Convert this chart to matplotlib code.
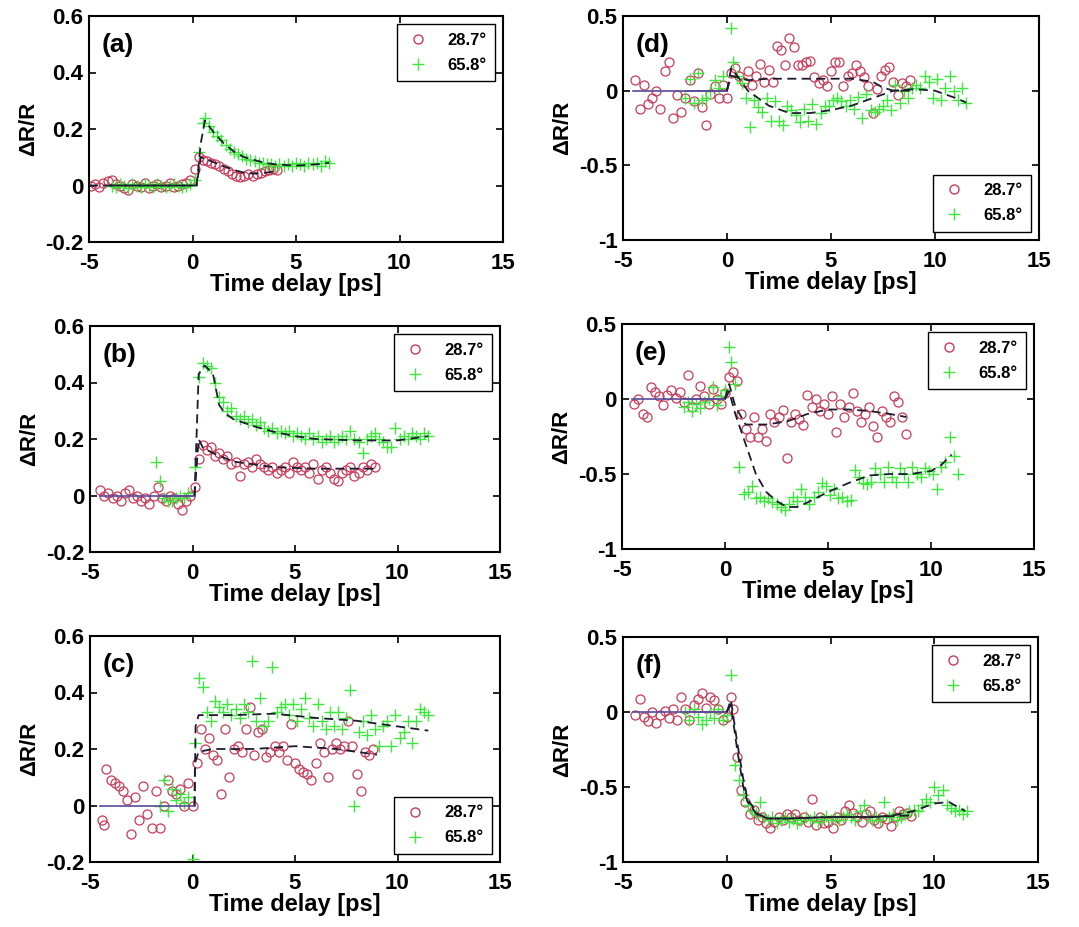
import numpy as np
import matplotlib
matplotlib.use('Agg')
import matplotlib.pyplot as plt
from matplotlib.lines import Line2D

plt.rcParams['font.family'] = ['Liberation Sans', 'DejaVu Sans']
plt.rcParams['font.weight'] = 'bold'
plt.rcParams['axes.unicode_minus'] = False

labels = ['28.7°', '65.8°']
panel_names = ['(a)', '(b)', '(c)', '(d)', '(e)', '(f)']
x_ticks = [-5, 0, 5, 10, 15]
y_ticks_left = [-0.2, 0, 0.2, 0.4, 0.6]
y_ticks_right = [-1, -0.5, 0, 0.5]

# ---- panel (a) ----
a_red = [(-4.9, 0.0), (-4.7, 0.005), (-4.5, -0.005), (-4.3, 0.01), (-4.1, 0.015), (-3.9, 0.02),
         (-3.7, 0.005), (-3.5, 0.0), (-3.3, -0.01), (-3.1, -0.015), (-2.9, 0.005), (-2.7, 0.0),
         (-2.5, -0.005), (-2.3, 0.01), (-2.1, -0.01), (-1.9, 0.0), (-1.7, 0.005), (-1.5, -0.005),
         (-1.3, 0.0), (-1.1, 0.01), (-0.9, -0.005), (-0.7, 0.0), (-0.5, 0.005), (-0.3, 0.01),
         (-0.1, 0.02), (0.1, 0.06), (0.3, 0.1), (0.5, 0.09), (0.7, 0.085), (0.9, 0.08), (1.1, 0.075),
         (1.3, 0.07), (1.5, 0.06), (1.7, 0.05), (1.9, 0.04), (2.1, 0.035), (2.3, 0.03), (2.5, 0.035),
         (2.7, 0.04), (2.9, 0.035), (3.1, 0.04), (3.3, 0.045), (3.5, 0.05), (3.7, 0.055), (3.9, 0.06),
         (4.1, 0.055)]
a_green = [(-3.9, 0.0), (-3.7, -0.005), (-3.5, 0.005), (-3.3, 0.0), (-3.1, -0.01), (-2.9, 0.005),
           (-2.7, 0.0), (-2.5, -0.005), (-2.3, 0.005), (-2.1, 0.0), (-1.9, -0.005), (-1.7, 0.005),
           (-1.5, 0.0), (-1.3, -0.005), (-1.1, 0.0), (-0.9, 0.005), (-0.7, 0.0), (-0.5, -0.005),
           (-0.3, 0.0), (-0.1, 0.005), (0.1, 0.02), (0.3, 0.12), (0.5, 0.22), (0.6, 0.24), (0.8, 0.21),
           (1.0, 0.19), (1.2, 0.175), (1.4, 0.16), (1.6, 0.145), (1.8, 0.13), (2.0, 0.12), (2.2, 0.11),
           (2.4, 0.105), (2.6, 0.095), (2.8, 0.09), (3.0, 0.085), (3.2, 0.08), (3.4, 0.08), (3.6, 0.075),
           (3.8, 0.075), (4.0, 0.07), (4.2, 0.075), (4.4, 0.07), (4.6, 0.075), (4.8, 0.07), (5.0, 0.08),
           (5.2, 0.075), (5.4, 0.07), (5.6, 0.08), (5.8, 0.075), (6.0, 0.08), (6.2, 0.07), (6.4, 0.085),
           (6.6, 0.08)]
a_red_fit = [(-5, 0), (0.2, 0), (0.4, 0.1), (0.6, 0.095), (1.0, 0.083), (1.5, 0.068), (2.0, 0.055),
             (2.5, 0.045), (3.0, 0.042), (3.5, 0.045), (4.0, 0.05)]
a_green_fit = [(-4, 0), (0.2, 0), (0.4, 0.15), (0.6, 0.23), (1.0, 0.19), (1.5, 0.15), (2.0, 0.12),
               (2.5, 0.1), (3.0, 0.09), (3.5, 0.08), (4.0, 0.075), (5.0, 0.07), (6.0, 0.075), (6.6, 0.08)]

# ---- panel (b) ----
b_red = [(-4.5, 0.02), (-4.3, 0.0), (-4.1, 0.01), (-3.9, -0.01), (-3.7, 0.0), (-3.5, -0.02), (-3.3, 0.01),
         (-3.1, 0.02), (-2.9, -0.01), (-2.7, 0.0), (-2.5, -0.02), (-2.3, -0.01), (-2.1, -0.03), (-1.9, 0.0),
         (-1.7, 0.03), (-1.5, -0.01), (-1.3, -0.02), (-1.1, 0.0), (-0.9, -0.01), (-0.7, -0.03), (-0.5, -0.05),
         (-0.3, -0.02), (-0.1, 0.0), (0.1, 0.03), (0.3, 0.13), (0.5, 0.18), (0.7, 0.16), (0.9, 0.17),
         (1.1, 0.14), (1.3, 0.15), (1.5, 0.13), (1.7, 0.14), (1.9, 0.11), (2.1, 0.12), (2.3, 0.07),
         (2.5, 0.11), (2.7, 0.12), (2.9, 0.1), (3.1, 0.13), (3.3, 0.11), (3.5, 0.1), (3.7, 0.09), (3.9, 0.1),
         (4.1, 0.08), (4.3, 0.09), (4.5, 0.1), (4.7, 0.08), (4.9, 0.12), (5.1, 0.1), (5.3, 0.09), (5.5, 0.1),
         (5.7, 0.08), (5.9, 0.11), (6.1, 0.06), (6.3, 0.09), (6.5, 0.1), (6.7, 0.08), (6.9, 0.06), (7.1, 0.05),
         (7.3, 0.08), (7.5, 0.09), (7.7, 0.1), (7.9, 0.07), (8.1, 0.08), (8.3, 0.1), (8.5, 0.09), (8.7, 0.11),
         (8.9, 0.1)]
b_green = [(-1.8, 0.12), (-1.6, 0.05), (-1.4, -0.01), (-1.2, -0.02), (-1.0, -0.02), (-0.8, -0.01),
           (-0.6, 0.0), (-0.4, -0.01), (-0.2, 0.01), (0.1, 0.1), (0.3, 0.42), (0.5, 0.47), (0.7, 0.46),
           (0.9, 0.45), (1.1, 0.4), (1.3, 0.35), (1.5, 0.33), (1.7, 0.3), (1.9, 0.31), (2.1, 0.28), (2.3, 0.27),
           (2.5, 0.28), (2.7, 0.26), (2.9, 0.27), (3.1, 0.25), (3.3, 0.26), (3.5, 0.24), (3.7, 0.23), (3.9, 0.24),
           (4.1, 0.22), (4.3, 0.23), (4.5, 0.22), (4.7, 0.23), (4.9, 0.21), (5.1, 0.22), (5.3, 0.21), (5.5, 0.2),
           (5.7, 0.22), (5.9, 0.2), (6.1, 0.21), (6.3, 0.19), (6.5, 0.2), (6.7, 0.21), (6.9, 0.19), (7.1, 0.2),
           (7.3, 0.21), (7.5, 0.2), (7.7, 0.23), (7.9, 0.2), (8.1, 0.19), (8.3, 0.15), (8.5, 0.2), (8.7, 0.21),
           (8.9, 0.22), (9.1, 0.2), (9.3, 0.19), (9.5, 0.17), (9.7, 0.17), (9.9, 0.24), (10.1, 0.2),
           (10.3, 0.21), (10.5, 0.2), (10.7, 0.22), (10.9, 0.21), (11.1, 0.2), (11.3, 0.22), (11.5, 0.21)]
b_red_fit = [(-4.5, 0), (0.1, 0), (0.3, 0.2), (0.5, 0.17), (1.0, 0.15), (2.0, 0.12), (3.0, 0.11),
             (4.0, 0.1), (6.0, 0.095), (9.0, 0.095)]
b_green_fit = [(-1.5, 0), (0.1, 0), (0.3, 0.43), (0.6, 0.46), (1.0, 0.43), (1.3, 0.32), (1.6, 0.29),
               (2.0, 0.27), (3.0, 0.245), (4.0, 0.225), (5.0, 0.21), (6.0, 0.2), (8.0, 0.195),
               (10.0, 0.195), (11.5, 0.21)]

# ---- panel (c) ----
c_red = [(-4.4, -0.05), (-4.3, -0.07), (-4.2, 0.13), (-4.0, 0.09), (-3.8, 0.08), (-3.6, 0.07), (-3.4, 0.05),
         (-3.2, 0.02), (-3.0, -0.1), (-2.8, 0.03), (-2.6, -0.05), (-2.4, 0.07), (-2.2, -0.03), (-2.0, -0.08),
         (-1.8, 0.05), (-1.6, -0.08), (-1.4, 0.0), (-1.2, 0.09), (-1.0, 0.05), (-0.8, 0.04), (-0.6, 0.06),
         (-0.4, 0.0), (-0.2, 0.08), (0.0, 0.0), (0.2, 0.15), (0.4, 0.27), (0.6, 0.2), (0.8, 0.24), (1.0, 0.18),
         (1.2, 0.16), (1.4, 0.04), (1.6, 0.27), (1.8, 0.1), (2.0, 0.2), (2.2, 0.21), (2.4, 0.19), (2.6, 0.27),
         (2.8, 0.35), (3.0, 0.18), (3.2, 0.26), (3.4, 0.27), (3.6, 0.17), (3.8, 0.19), (4.0, 0.21), (4.2, 0.19),
         (4.4, 0.21), (4.6, 0.16), (4.8, 0.29), (5.0, 0.15), (5.2, 0.13), (5.4, 0.12), (5.6, 0.11), (5.8, 0.09),
         (6.0, 0.15), (6.2, 0.22), (6.4, 0.19), (6.6, 0.1), (6.8, 0.2), (7.0, 0.22), (7.2, 0.2), (7.4, 0.21),
         (7.6, 0.3), (7.8, 0.21), (8.0, 0.11), (8.2, 0.05), (8.4, 0.19), (8.6, 0.18), (8.8, 0.2)]
c_green = [(0.0, -0.19), (-1.6, 0.0), (-1.4, 0.09), (-1.2, -0.02), (-1.0, 0.06), (-0.8, 0.02), (-0.6, 0.04),
           (-0.4, 0.01), (-0.2, 0.03), (0.1, 0.22), (0.3, 0.45), (0.5, 0.42), (0.7, 0.33), (0.9, 0.3),
           (1.1, 0.37), (1.3, 0.35), (1.5, 0.33), (1.7, 0.36), (1.9, 0.32), (2.1, 0.34), (2.3, 0.31),
           (2.5, 0.36), (2.7, 0.33), (2.9, 0.51), (3.1, 0.3), (3.3, 0.38), (3.5, 0.28), (3.7, 0.3), (3.9, 0.49),
           (4.1, 0.33), (4.3, 0.35), (4.5, 0.36), (4.7, 0.32), (4.9, 0.36), (5.1, 0.3), (5.3, 0.34), (5.5, 0.38),
           (5.7, 0.31), (5.9, 0.28), (6.1, 0.36), (6.3, 0.3), (6.5, 0.27), (6.7, 0.33), (6.9, 0.28), (7.1, 0.33),
           (7.3, 0.27), (7.5, 0.31), (7.7, 0.41), (7.9, 0.0), (8.1, 0.26), (8.3, 0.3), (8.5, 0.25), (8.7, 0.32),
           (8.9, 0.27), (9.1, 0.21), (9.3, 0.28), (9.5, 0.3), (9.7, 0.21), (9.9, 0.32), (10.1, 0.24),
           (10.3, 0.26), (10.5, 0.3), (10.7, 0.22), (10.9, 0.3), (11.1, 0.34), (11.3, 0.33), (11.5, 0.32)]
c_red_fit = [(-4.5, 0), (0.1, 0), (0.12, 0.15), (0.3, 0.19), (1.0, 0.2), (3.0, 0.2), (5.0, 0.21),
             (7.0, 0.2), (9.0, 0.18)]
c_green_fit = [(0.1, 0), (0.15, 0.28), (0.3, 0.32), (2.0, 0.32), (4.0, 0.325), (6.0, 0.31), (8.0, 0.3),
               (10.0, 0.28), (11.5, 0.265)]

# ---- panel (d) ----
d_red = [(-4.4, 0.07), (-4.2, -0.12), (-4.0, 0.04), (-3.8, -0.09), (-3.6, -0.05), (-3.4, 0.0), (-3.2, -0.12),
         (-3.0, 0.13), (-2.8, 0.19), (-2.6, -0.18), (-2.4, -0.03), (-2.2, -0.14), (-2.0, -0.05), (-1.8, 0.07),
         (-1.6, -0.07), (-1.4, 0.12), (-1.2, -0.11), (-1.0, -0.23), (-0.8, -0.02), (-0.6, 0.03), (-0.4, -0.05),
         (-0.2, 0.04), (0.0, -0.05), (0.2, 0.12), (0.4, 0.15), (0.6, 0.1), (0.8, 0.06), (1.0, 0.13), (1.2, 0.04),
         (1.4, 0.1), (1.6, 0.18), (1.8, 0.06), (2.0, 0.14), (2.2, 0.06), (2.4, 0.3), (2.6, 0.27), (2.8, 0.17),
         (3.0, 0.35), (3.2, 0.29), (3.4, 0.17), (3.6, 0.17), (3.8, 0.19), (4.0, 0.2), (4.2, 0.09), (4.4, 0.05),
         (4.6, 0.07), (4.8, 0.03), (5.0, 0.13), (5.2, 0.19), (5.4, 0.19), (5.6, 0.03), (5.8, 0.1), (6.0, 0.12),
         (6.2, 0.17), (6.4, 0.13), (6.6, 0.09), (6.8, 0.03), (7.0, -0.15), (7.2, 0.01), (7.4, 0.1), (7.6, 0.14),
         (7.8, 0.16), (8.0, 0.06), (8.2, -0.03), (8.4, 0.05), (8.6, 0.03), (8.8, 0.07)]
d_green = [(-2.0, -0.05), (-1.8, 0.08), (-1.6, -0.08), (-1.4, 0.12), (-1.2, -0.06), (-1.0, -0.05),
           (-0.8, 0.0), (-0.6, 0.07), (-0.4, 0.02), (-0.2, 0.1), (0.2, 0.42), (0.3, 0.19), (0.5, 0.1),
           (0.7, 0.05), (0.9, -0.05), (1.1, -0.24), (1.3, -0.06), (1.5, -0.11), (1.7, -0.14), (1.9, -0.05),
           (2.1, -0.2), (2.3, -0.07), (2.5, -0.2), (2.7, -0.23), (2.9, -0.1), (3.1, -0.13), (3.3, -0.16),
           (3.5, -0.21), (3.7, -0.12), (3.9, -0.2), (4.1, -0.09), (4.3, -0.22), (4.5, -0.15), (4.7, -0.1),
           (4.9, -0.1), (5.1, -0.06), (5.3, -0.05), (5.5, -0.07), (5.7, -0.1), (5.9, -0.06), (6.1, -0.12),
           (6.3, -0.04), (6.5, -0.18), (6.7, -0.02), (6.9, -0.13), (7.1, -0.14), (7.3, -0.12), (7.5, -0.1),
           (7.7, -0.06), (7.9, -0.13), (8.1, 0.04), (8.3, -0.08), (8.5, 0.0), (8.7, -0.05), (8.9, 0.02),
           (9.1, 0.04), (9.3, 0.02), (9.5, 0.1), (9.7, 0.06), (9.9, -0.05), (10.1, 0.08), (10.3, -0.06),
           (10.5, 0.02), (10.7, 0.1), (10.9, 0.0), (11.1, -0.06), (11.3, 0.02), (11.5, -0.08)]
d_red_fit = [(-4.5, 0), (0.0, 0), (0.2, 0.1), (1.0, 0.07), (2.0, 0.08), (4.0, 0.08), (6.0, 0.08),
             (7.0, 0.06), (7.5, 0.02), (8.0, 0.0), (9.0, 0.0)]
d_green_fit = [(-2, 0), (0.0, 0), (0.2, 0.15), (0.6, 0.08), (1.0, 0.0), (2.0, -0.1), (3.0, -0.15),
               (4.0, -0.15), (5.0, -0.13), (6.0, -0.1), (7.0, -0.05), (8.0, 0.0), (9.0, 0.01),
               (10.0, 0.0), (11.0, -0.05), (11.5, -0.08)]

# ---- panel (e) ----
e_red = [(-4.4, -0.03), (-4.2, 0.0), (-4.0, -0.1), (-3.8, -0.12), (-3.6, 0.08), (-3.4, 0.05), (-3.2, 0.02),
         (-3.0, -0.04), (-2.8, 0.03), (-2.6, 0.06), (-2.4, 0.01), (-2.2, 0.05), (-2.0, -0.02), (-1.8, 0.16),
         (-1.6, -0.05), (-1.4, 0.0), (-1.2, 0.09), (-1.0, 0.02), (-0.8, -0.03), (-0.6, 0.07), (-0.4, 0.0),
         (-0.2, -0.03), (0.0, 0.04), (0.2, 0.15), (0.4, 0.18), (0.6, 0.12), (0.8, -0.1), (1.0, -0.2),
         (1.2, -0.25), (1.4, -0.12), (1.6, -0.25), (1.8, -0.2), (2.0, -0.28), (2.2, -0.1), (2.4, -0.15),
         (2.6, -0.12), (2.8, -0.07), (3.0, -0.39), (3.2, -0.15), (3.4, -0.1), (3.6, -0.13), (3.8, -0.17),
         (4.0, 0.03), (4.2, -0.05), (4.4, 0.0), (4.6, -0.08), (4.8, -0.03), (5.0, -0.1), (5.2, 0.02),
         (5.4, -0.22), (5.6, -0.03), (5.8, -0.12), (6.0, -0.05), (6.2, 0.04), (6.4, -0.08), (6.6, -0.15),
         (6.8, -0.1), (7.0, -0.05), (7.2, -0.18), (7.4, -0.25), (7.6, -0.08), (7.8, -0.12), (8.0, -0.15),
         (8.2, 0.02), (8.4, -0.02), (8.6, -0.12), (8.8, -0.23)]
e_green = [(-2.0, -0.05), (-1.8, -0.02), (-1.6, -0.08), (-1.4, -0.03), (-1.2, -0.06), (-1.0, -0.02),
           (-0.8, 0.0), (-0.6, 0.08), (-0.4, -0.04), (-0.2, 0.02), (0.0, 0.06), (0.2, 0.35), (0.3, 0.25),
           (0.5, 0.1), (0.7, -0.45), (0.9, -0.63), (1.1, -0.62), (1.3, -0.58), (1.5, -0.66), (1.7, -0.65),
           (1.9, -0.68), (2.1, -0.66), (2.3, -0.69), (2.5, -0.7), (2.7, -0.72), (2.9, -0.74), (3.1, -0.7),
           (3.3, -0.65), (3.5, -0.68), (3.7, -0.6), (3.9, -0.65), (4.1, -0.7), (4.3, -0.65), (4.5, -0.62),
           (4.7, -0.56), (4.9, -0.58), (5.1, -0.64), (5.3, -0.6), (5.5, -0.66), (5.7, -0.65), (5.9, -0.68),
           (6.1, -0.67), (6.3, -0.47), (6.5, -0.52), (6.7, -0.56), (6.9, -0.57), (7.1, -0.55), (7.3, -0.46),
           (7.5, -0.5), (7.7, -0.55), (7.9, -0.45), (8.1, -0.52), (8.3, -0.55), (8.5, -0.46), (8.7, -0.5),
           (8.9, -0.55), (9.1, -0.45), (9.3, -0.5), (9.5, -0.52), (9.7, -0.46), (9.9, -0.48), (10.1, -0.5),
           (10.3, -0.6), (10.5, -0.45), (10.7, -0.42), (10.9, -0.25), (11.1, -0.38), (11.3, -0.5)]
e_red_fit = [(-4.5, 0), (0.0, 0), (0.2, 0.1), (0.5, -0.05), (1.0, -0.17), (2.0, -0.17), (3.0, -0.15),
             (4.0, -0.1), (5.0, -0.07), (6.0, -0.07), (7.0, -0.08), (8.0, -0.1), (8.8, -0.12)]
e_green_fit = [(-2, 0), (0.0, 0), (0.2, 0.05), (0.5, -0.1), (1.0, -0.3), (1.5, -0.5), (2.0, -0.62),
               (2.5, -0.68), (3.0, -0.72), (3.5, -0.72), (4.0, -0.69), (5.0, -0.62), (6.0, -0.56),
               (7.0, -0.51), (8.0, -0.5), (9.0, -0.5), (10.0, -0.48), (10.5, -0.44), (11.0, -0.37)]

# ---- panel (f) ----
f_red = [(-4.4, -0.02), (-4.2, 0.09), (-4.0, -0.03), (-3.8, -0.06), (-3.6, 0.0), (-3.4, -0.07), (-3.2, -0.02),
         (-3.0, 0.01), (-2.8, -0.04), (-2.6, 0.02), (-2.4, -0.05), (-2.2, 0.1), (-2.0, 0.02), (-1.8, -0.05),
         (-1.6, 0.05), (-1.4, 0.09), (-1.2, 0.13), (-1.0, 0.03), (-0.8, 0.1), (-0.6, 0.08), (-0.4, 0.02),
         (-0.2, -0.05), (0.0, -0.03), (0.2, 0.1), (0.3, 0.02), (0.5, -0.3), (0.7, -0.52), (0.9, -0.6),
         (1.1, -0.68), (1.3, -0.65), (1.5, -0.72), (1.7, -0.7), (1.9, -0.74), (2.1, -0.77), (2.3, -0.73),
         (2.5, -0.7), (2.7, -0.72), (2.9, -0.68), (3.1, -0.7), (3.3, -0.68), (3.5, -0.72), (3.7, -0.7),
         (3.9, -0.73), (4.1, -0.58), (4.3, -0.75), (4.5, -0.7), (4.7, -0.74), (4.9, -0.73), (5.1, -0.77),
         (5.3, -0.7), (5.5, -0.72), (5.7, -0.66), (5.9, -0.62), (6.1, -0.67), (6.3, -0.7), (6.5, -0.73),
         (6.7, -0.68), (6.9, -0.66), (7.1, -0.72), (7.3, -0.74), (7.5, -0.7), (7.7, -0.71), (7.9, -0.76),
         (8.1, -0.7), (8.3, -0.66), (8.5, -0.68), (8.7, -0.67), (8.9, -0.69)]
f_green = [(-2.0, 0.0), (-1.8, -0.05), (-1.6, 0.02), (-1.4, -0.03), (-1.2, -0.08), (-1.0, -0.05),
           (-0.8, 0.0), (-0.6, -0.04), (-0.4, 0.02), (-0.2, -0.05), (0.0, -0.02), (0.2, 0.25), (0.4, -0.35),
           (0.6, -0.45), (0.8, -0.55), (1.0, -0.62), (1.2, -0.66), (1.4, -0.68), (1.6, -0.6), (1.8, -0.7),
           (2.0, -0.72), (2.2, -0.7), (2.4, -0.74), (2.6, -0.72), (2.8, -0.7), (3.0, -0.73), (3.2, -0.71),
           (3.4, -0.74), (3.6, -0.72), (3.8, -0.7), (4.0, -0.72), (4.2, -0.7), (4.4, -0.73), (4.6, -0.71),
           (4.8, -0.69), (5.0, -0.72), (5.2, -0.7), (5.4, -0.72), (5.6, -0.7), (5.8, -0.68), (6.0, -0.7),
           (6.2, -0.72), (6.4, -0.66), (6.6, -0.62), (6.8, -0.7), (7.0, -0.72), (7.2, -0.7), (7.4, -0.72),
           (7.6, -0.6), (7.8, -0.7), (8.0, -0.68), (8.2, -0.72), (8.4, -0.7), (8.6, -0.68), (8.8, -0.66),
           (9.0, -0.65), (9.2, -0.66), (9.4, -0.62), (9.6, -0.58), (9.8, -0.6), (10.0, -0.5), (10.2, -0.55),
           (10.4, -0.52), (10.6, -0.62), (10.8, -0.64), (11.0, -0.66), (11.2, -0.65), (11.4, -0.68),
           (11.6, -0.66)]
f_red_fit = [(-4.5, 0), (0.0, 0), (0.2, 0.08), (0.5, -0.2), (0.8, -0.45), (1.0, -0.58), (1.5, -0.68),
             (2.0, -0.71), (3.0, -0.71), (5.0, -0.7), (7.0, -0.7), (8.8, -0.69)]
f_green_fit = [(-2, 0), (0.0, 0), (0.2, 0.05), (0.5, -0.25), (0.8, -0.5), (1.0, -0.6), (1.5, -0.69),
               (2.0, -0.71), (3.0, -0.71), (5.0, -0.7), (7.0, -0.7), (8.0, -0.69), (9.0, -0.66),
               (10.0, -0.61), (10.7, -0.6), (11.5, -0.66)]

RED = '#c83c5a'
GREEN = '#3ee63e'
FIT = '#1c1c30'
BASE = '#5a4a9a'

W, H = 1079, 927
# axes boxes in pixels: left, top, right, bottom
boxes = [(89, 16, 503, 242), (90, 326, 500, 552), (90, 636, 500, 862),
         (623, 16, 1039, 240), (622, 324, 1034, 549), (623, 637, 1038, 862)]
panels = [(a_red, a_green, a_red_fit, a_green_fit),
          (b_red, b_green, b_red_fit, b_green_fit),
          (c_red, c_green, c_red_fit, c_green_fit),
          (d_red, d_green, d_red_fit, d_green_fit),
          (e_red, e_green, e_red_fit, e_green_fit),
          (f_red, f_green, f_red_fit, f_green_fit)]
legend_loc = ['upper right', 'upper right', 'lower right',
              'lower right', 'upper right', 'upper right']


def plot_fit(ax, fit):
    '''Solid baseline before t=0, dashed fit after it.'''
    fx, fy = np.array(fit).T
    n_base = int((fx <= 0.1).sum())
    ax.plot(fx[:n_base], fy[:n_base], color=BASE, lw=1.2, zorder=3)
    ax.plot(fx[n_base - 1:], fy[n_base - 1:], color=FIT, lw=1.3,
            ls=(0, (5, 3)), zorder=3)


fig = plt.figure(figsize=(W / 100, H / 100), dpi=100)
for i, (red, green, red_fit, green_fit) in enumerate(panels):
    l, t, r, b = boxes[i]
    ax = fig.add_axes([l / W, 1 - b / H, (r - l) / W, (b - t) / H])
    rx, ry = zip(*red)
    gx, gy = zip(*green)
    ax.plot(rx, ry, 'o', mfc='none', mec=RED, ms=6.5, mew=0.9, zorder=2)
    ax.plot(gx, gy, '+', color=GREEN, ms=8, mew=1.0, zorder=2)
    plot_fit(ax, red_fit)
    plot_fit(ax, green_fit)

    ax.set_xlim(-5, 15)
    ax.set_xticks(x_ticks)
    if i < 3:
        ax.set_ylim(-0.2, 0.6)
        ax.set_yticks(y_ticks_left)
        ax.set_yticklabels(['-0.2', '0', '0.2', '0.4', '0.6'])
    else:
        ax.set_ylim(-1, 0.5)
        ax.set_yticks(y_ticks_right)
        ax.set_yticklabels(['-1', '-0.5', '0', '0.5'])
    ax.tick_params(direction='in', top=True, right=True, length=5, width=1.2,
                   labelsize=16)
    ax.tick_params(axis='x', pad=8)
    ax.tick_params(axis='y', pad=4)
    for lab in ax.get_xticklabels() + ax.get_yticklabels():
        lab.set_fontweight('bold')
    for sp in ax.spines.values():
        sp.set_linewidth(1.5)
    ax.set_xlabel('Time delay [ps]', fontsize=17, fontweight='bold', labelpad=-1)
    ax.set_ylabel('ΔR/R', fontsize=16, fontweight='bold', labelpad=4)
    ax.text(0.03, 0.87, panel_names[i], transform=ax.transAxes, fontsize=19,
            fontweight='bold', va='center', ha='left')

    handles = [Line2D([], [], ls='none', marker='o', mfc='none', mec=RED, ms=6.5),
               Line2D([], [], ls='none', marker='+', color=GREEN, ms=8)]
    leg = ax.legend(handles, labels, loc=legend_loc[i], fancybox=False, framealpha=1,
                    edgecolor='black', prop={'size': 12, 'weight': 'bold'},
                    borderaxespad=0.5, handletextpad=1.0, handlelength=1.5,
                    borderpad=0.5, labelspacing=0.6)
    leg.get_frame().set_linewidth(1.0)

fig.savefig('out.png', dpi=100)
